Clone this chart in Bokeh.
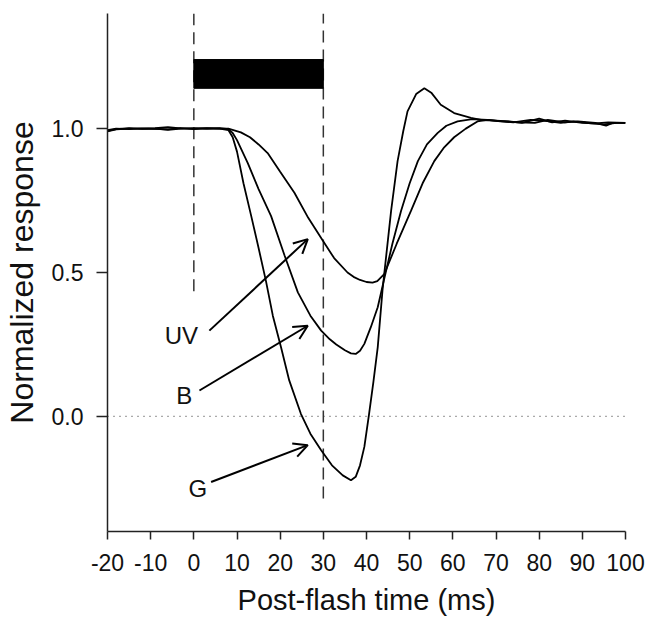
from bokeh.plotting import figure
from bokeh.models import Range1d, FixedTicker, PrintfTickFormatter, Arrow, OpenHead, ColumnDataSource
from bokeh.core.properties import value
from bokeh.embed import file_html
from bokeh.resources import INLINE

FONT = "Liberation Sans"

# ---- data ----
g_x = [-20, -18, -15, -12, -9, -6, -3, 0, 3, 6, 8, 9, 10, 11.5, 13.3, 15, 16.7, 18.3, 20.2, 22.1, 24.8, 27, 29.5, 32,
       34.5, 36.4, 37.5, 38.5, 39.5, 40.6, 41.6, 42.6, 43.7, 44.1, 45.7, 47.2, 48.5, 49.5, 51.5, 53.4, 55, 57.2, 60.3,
       64.2, 66.5, 70, 73, 76, 80, 83, 86, 90, 93, 96, 100]
g_y = [0.99, 0.997, 1.0, 1.0, 1.002, 1.005, 1.001, 1.0, 1.002, 1.0, 0.995, 0.97, 0.92, 0.81, 0.696, 0.585, 0.471, 0.35,
       0.24, 0.125, 0.009, -0.06, -0.118, -0.17, -0.205, -0.222, -0.21, -0.17, -0.106, 0.009, 0.12, 0.24, 0.437, 0.494,
       0.714, 0.887, 0.99, 1.06, 1.12, 1.14, 1.125, 1.083, 1.054, 1.037, 1.03, 1.028, 1.025, 1.02, 1.035, 1.022,
       1.028, 1.02, 1.018, 1.022, 1.02]

b_x = [-20, -18, -15, -12, -9, -6, -3, 0, 3, 6, 8, 9, 10, 12.5, 15, 17.9, 21, 24.1, 27, 29.5, 31.5, 33, 35, 36.4, 37.5,
       38.5, 39.5, 41, 42.6, 44.0, 46, 48, 50, 51.9, 54, 56.5, 58.5, 61.1, 64.5, 68, 71, 74, 78, 81, 85, 88, 92, 95,
       98, 100]
b_y = [0.992, 0.998, 1.002, 0.999, 1.0, 0.996, 1.0, 1.002, 1.0, 1.002, 0.998, 0.985, 0.96, 0.88, 0.79, 0.696, 0.56,
       0.431, 0.35, 0.298, 0.268, 0.25, 0.23, 0.219, 0.217, 0.228, 0.252, 0.31, 0.379, 0.471, 0.6, 0.714, 0.81, 0.887,
       0.945, 0.985, 1.01, 1.025, 1.033, 1.03, 1.025, 1.022, 1.03, 1.028, 1.02, 1.025, 1.018, 1.015, 1.02, 1.02]

uv_x = [-20, -18, -15, -12, -9, -6, -3, 0, 3, 6, 8, 10.9, 13, 15, 17.1, 20, 23.3, 26.5, 29.9, 32.5, 35.6, 37, 38.5, 40,
        41.4, 42.5, 44.1, 47, 50.3, 53, 55.7, 58, 60.3, 63, 65.7, 68, 71, 75, 79, 82, 86, 89, 93, 95.5, 97, 100]
uv_y = [0.995, 1.0, 0.998, 1.001, 0.999, 0.997, 1.002, 0.998, 1.001, 1.0, 1.0, 0.987, 0.97, 0.945, 0.915, 0.85, 0.777,
        0.69, 0.61, 0.55, 0.5, 0.485, 0.474, 0.467, 0.465, 0.47, 0.494, 0.6, 0.714, 0.81, 0.887, 0.935, 0.97, 1.0,
        1.025, 1.03, 1.026, 1.022, 1.02, 1.03, 1.022, 1.025, 1.02, 1.01, 1.02, 1.02]

# stimulus bar
bar_x = [0, 30]
bar_y = [1.14, 1.24]

# vertical dashed markers
vline_x = [0, 30]
vline_y_bottom = [0.435, -0.285]
vline_y_top = 1.4

# labels and arrows
label_text = ["UV", "B", "G"]
label_x = [-2.9, -2.2, 0.9]
label_y = [0.28, 0.073, -0.25]
arrow_x0 = [3.6, 1.3, 4.0]
arrow_y0 = [0.298, 0.09, -0.228]
arrow_x1 = [26.4, 26.4, 26.4]
arrow_y1 = [0.616, 0.315, -0.10]

x_ticks = list(range(-20, 101, 10))
y_ticks = [0.0, 0.5, 1.0]

p = figure(width=645, height=619, output_backend="svg", toolbar_location=None,
           x_range=Range1d(-20, 100), y_range=Range1d(-0.4, 1.4),
           min_border_left=106, min_border_right=20, min_border_top=13, min_border_bottom=88)
p.outline_line_color = None
p.xgrid.visible = False
p.ygrid.visible = False
p.background_fill_color = "white"

# zero dotted line
p.line([x_ticks[0], x_ticks[-1]], [0, 0], line_color="#555555", line_width=1.2, line_dash="1 5")

# dashed vertical lines
for xv, yb in zip(vline_x, vline_y_bottom):
    p.line([xv, xv], [yb, vline_y_top], line_color="#333333", line_width=1.5, line_dash="12 7")

# stimulus bar
p.quad(left=bar_x[0], right=bar_x[1], bottom=bar_y[0], top=bar_y[1], fill_color="black", line_color="black")

# curves
for xs, ys in ((uv_x, uv_y), (b_x, b_y), (g_x, g_y)):
    p.line(xs, ys, line_color="black", line_width=1.8)

# arrows
for x0, y0, x1, y1 in zip(arrow_x0, arrow_y0, arrow_x1, arrow_y1):
    p.add_layout(Arrow(end=OpenHead(size=14, line_width=2, line_color="black"),
                       x_start=x0, y_start=y0, x_end=x1, y_end=y1, line_width=2, line_color="black"))

src = ColumnDataSource(dict(x=label_x, y=label_y, t=label_text))
p.text(x="x", y="y", text="t", source=src, text_font=value(FONT), text_font_size="24px",
       text_align="center", text_baseline="middle", text_color="#111111")

# axes
p.xaxis.ticker = FixedTicker(ticks=x_ticks)
p.yaxis.ticker = FixedTicker(ticks=y_ticks)
p.xaxis.formatter = PrintfTickFormatter(format="%d")
p.yaxis.formatter = PrintfTickFormatter(format="%.1f")
p.xaxis.axis_label = "Post-flash time (ms)"
p.yaxis.axis_label = "Normalized response"
for ax in (p.xaxis, p.yaxis):
    ax.axis_line_width = 1.5
    ax.axis_line_color = "#222222"
    ax.major_tick_line_width = 1.5
    ax.major_tick_line_color = "#222222"
    ax.major_tick_in = 0
    ax.minor_tick_line_color = None
    ax.major_label_text_font = FONT
    ax.major_label_text_font_size = "23px"
    ax.major_label_text_color = "#111111"
    ax.axis_label_text_font = FONT
    ax.axis_label_text_font_style = "normal"
    ax.axis_label_text_color = "#111111"
p.xaxis.major_tick_out = 8
p.yaxis.major_tick_out = 11
p.xaxis.axis_label_text_font_size = "29px"
p.yaxis.axis_label_text_font_size = "32px"
p.xaxis.major_label_standoff = 14
p.yaxis.major_label_standoff = 13
p.xaxis.axis_label_standoff = 10
p.yaxis.axis_label_standoff = 9

open("out.html", "w").write(file_html(p, INLINE))
